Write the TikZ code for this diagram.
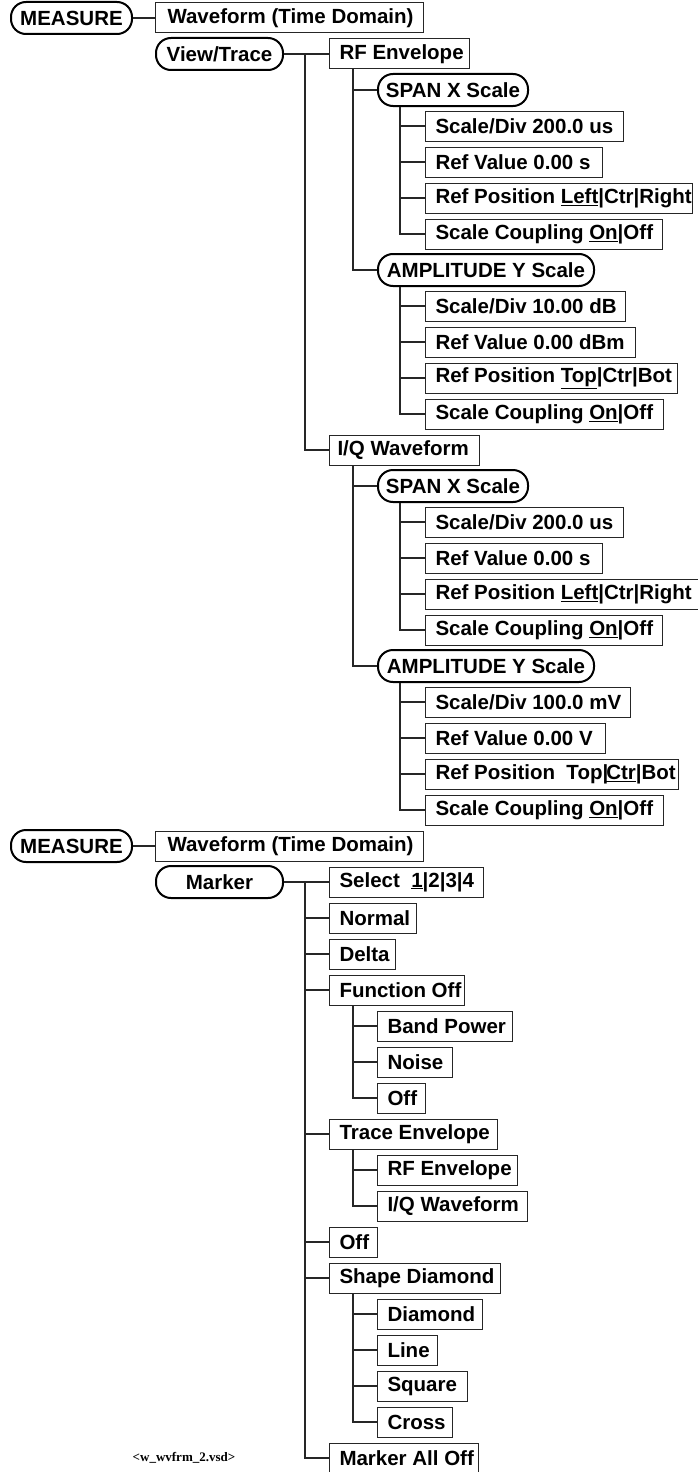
\documentclass[tikz,border=0pt]{standalone}
\usepackage{fontspec}
\setmainfont{Liberation Sans}
\newfontfamily\capfont{Liberation Serif}
\newcommand{\bx}[3][10]{\makebox[#2pt][l]{\hspace{#1pt}#3}}
\tikzset{
  leaf/.style={draw=black!85, line width=1pt, anchor=west, inner xsep=0pt, inner ysep=0pt,
    minimum height=30pt, font=\bfseries\fontsize{20.5}{24}\selectfont},
  rbox/.style={draw=black, line width=2pt, anchor=west, rounded corners=15pt, inner xsep=0pt,
    inner ysep=0pt, minimum height=32pt, font=\bfseries\fontsize{20.5}{24}\selectfont},
  conn/.style={draw=black!85, line width=1.1pt},
  capstyle/.style={font=\capfont\bfseries\fontsize{13}{15}\selectfont}
}
\begin{document}
\begin{tikzpicture}[x=1pt,y=-1pt]
\useasboundingbox (0,0) rectangle (697,1472);
% ---------- first tree ----------
\node[rbox, minimum width=121pt] (m1) at (10,18) {MEASURE};
\node[leaf] (wf1) at (155,18) {\bx[12]{268}{Waveform (Time Domain)}};
\node[rbox, minimum width=127pt] (vt) at (155,54) {View/Trace};
\node[leaf] (rf1) at (329,54) {\bx{140}{RF Envelope}};
\node[rbox, minimum width=150pt] (sx1) at (377,90) {SPAN X Scale};
\node[leaf] (a1) at (425,126) {\bx{198}{Scale/Div 200.0 us}};
\node[leaf] (a2) at (425,162) {\bx{177}{Ref Value 0.00 s}};
\node[leaf] (a3) at (425,198) {\bx{267}{Ref Position \underline{Left}|Ctr|Right}};
\node[leaf] (a4) at (425,234) {\bx{237}{Scale Coupling \underline{On}|Off}};
\node[rbox, minimum width=216pt] (ay1) at (377,270) {AMPLITUDE Y Scale};
\node[leaf] (b1) at (425,306) {\bx{200}{Scale/Div 10.00 dB}};
\node[leaf] (b2) at (425,342) {\bx{210}{Ref Value 0.00 dBm}};
\node[leaf] (b3) at (425,378) {\bx{252}{Ref Position \underline{Top}|Ctr|Bot}};
\node[leaf] (b4) at (425,414) {\bx{238}{Scale Coupling \underline{On}|Off}};
\node[leaf] (iq1) at (329,450) {\bx[8]{150}{I/Q Waveform}};
\node[rbox, minimum width=150pt] (sx2) at (377,486) {SPAN X Scale};
\node[leaf] (c1) at (425,522) {\bx{198}{Scale/Div 200.0 us}};
\node[leaf] (c2) at (425,558) {\bx{177}{Ref Value 0.00 s}};
\node[leaf] (c3) at (425,594) {\bx{278}{Ref Position \underline{Left}|Ctr|Right}};
\node[leaf] (c4) at (425,630) {\bx{237}{Scale Coupling \underline{On}|Off}};
\node[rbox, minimum width=216pt] (ay2) at (377,666) {AMPLITUDE Y Scale};
\node[leaf] (d1) at (425,702) {\bx{205}{Scale/Div 100.0 mV}};
\node[leaf] (d2) at (425,738) {\bx{180}{Ref Value 0.00 V}};
\node[leaf] (d3) at (425,774) {\bx{253}{Ref Position\ \ Top|\kern-2pt\underline{Ctr}|Bot}};
\node[leaf] (d4) at (425,810) {\bx{238}{Scale Coupling \underline{On}|Off}};
% connectors, first tree
\draw[conn] (m1.east) -- (wf1.west);
\draw[conn] (vt.east) -- (rf1.west);
\draw[conn] ([xshift=-24pt]rf1.west) |- (iq1.west);
\foreach \c in {sx1,ay1} \draw[conn] ([xshift=24pt]rf1.south west) |- (\c.west);
\foreach \c in {a1,a2,a3,a4} \draw[conn] ([xshift=23pt]sx1.south west) |- (\c.west);
\foreach \c in {b1,b2,b3,b4} \draw[conn] ([xshift=23pt]ay1.south west) |- (\c.west);
\foreach \c in {sx2,ay2} \draw[conn] ([xshift=24pt]iq1.south west) |- (\c.west);
\foreach \c in {c1,c2,c3,c4} \draw[conn] ([xshift=23pt]sx2.south west) |- (\c.west);
\foreach \c in {d1,d2,d3,d4} \draw[conn] ([xshift=23pt]ay2.south west) |- (\c.west);
% ---------- second tree ----------
\node[rbox, minimum width=121pt] (m2) at (10,846) {MEASURE};
\node[leaf] (wf2) at (155,846) {\bx[12]{268}{Waveform (Time Domain)}};
\node[rbox, minimum width=127pt] (mk) at (155,882) {Marker};
\node[leaf] (sel) at (329,882) {\bx{154}{Select\ \ \underline{1}|2|3|4}};
\node[leaf] (nor) at (329,918) {\bx{87}{Normal}};
\node[leaf] (del) at (329,954) {\bx{66}{Delta}};
\node[leaf] (fo) at (329,990) {\bx{135}{Function Off}};
\node[leaf] (bp) at (377,1026) {\bx{135}{Band Power}};
\node[leaf] (noi) at (377,1062) {\bx{75}{Noise}};
\node[leaf] (fof) at (377,1098) {\bx{48}{Off}};
\node[leaf] (te) at (329,1134) {\bx{168}{Trace Envelope}};
\node[leaf] (rf2) at (377,1170) {\bx{140}{RF Envelope}};
\node[leaf] (iq2) at (377,1206) {\bx{150}{I/Q Waveform}};
\node[leaf] (off) at (329,1242) {\bx{48}{Off}};
\node[leaf] (sd) at (329,1278) {\bx{171}{Shape Diamond}};
\node[leaf] (dia) at (377,1314) {\bx{105}{Diamond}};
\node[leaf] (lin) at (377,1350) {\bx{60}{Line}};
\node[leaf] (squ) at (377,1386) {\bx{90}{Square}};
\node[leaf] (cro) at (377,1422) {\bx{75}{Cross}};
\node[leaf] (mao) at (329,1458) {\bx{149}{Marker All Off}};
\node[capstyle] (cap) at (184,1458) {<w\_wvfrm\_2.vsd>};
% connectors, second tree
\draw[conn] (m2.east) -- (wf2.west);
\draw[conn] (mk.east) -- (sel.west);
\foreach \c in {nor,del,fo,te,off,sd,mao} \draw[conn] ([xshift=-24pt]sel.west) |- (\c.west);
\foreach \c in {bp,noi,fof} \draw[conn] ([xshift=24pt]fo.south west) |- (\c.west);
\foreach \c in {rf2,iq2} \draw[conn] ([xshift=24pt]te.south west) |- (\c.west);
\foreach \c in {dia,lin,squ,cro} \draw[conn] ([xshift=24pt]sd.south west) |- (\c.west);
\end{tikzpicture}
\end{document}
